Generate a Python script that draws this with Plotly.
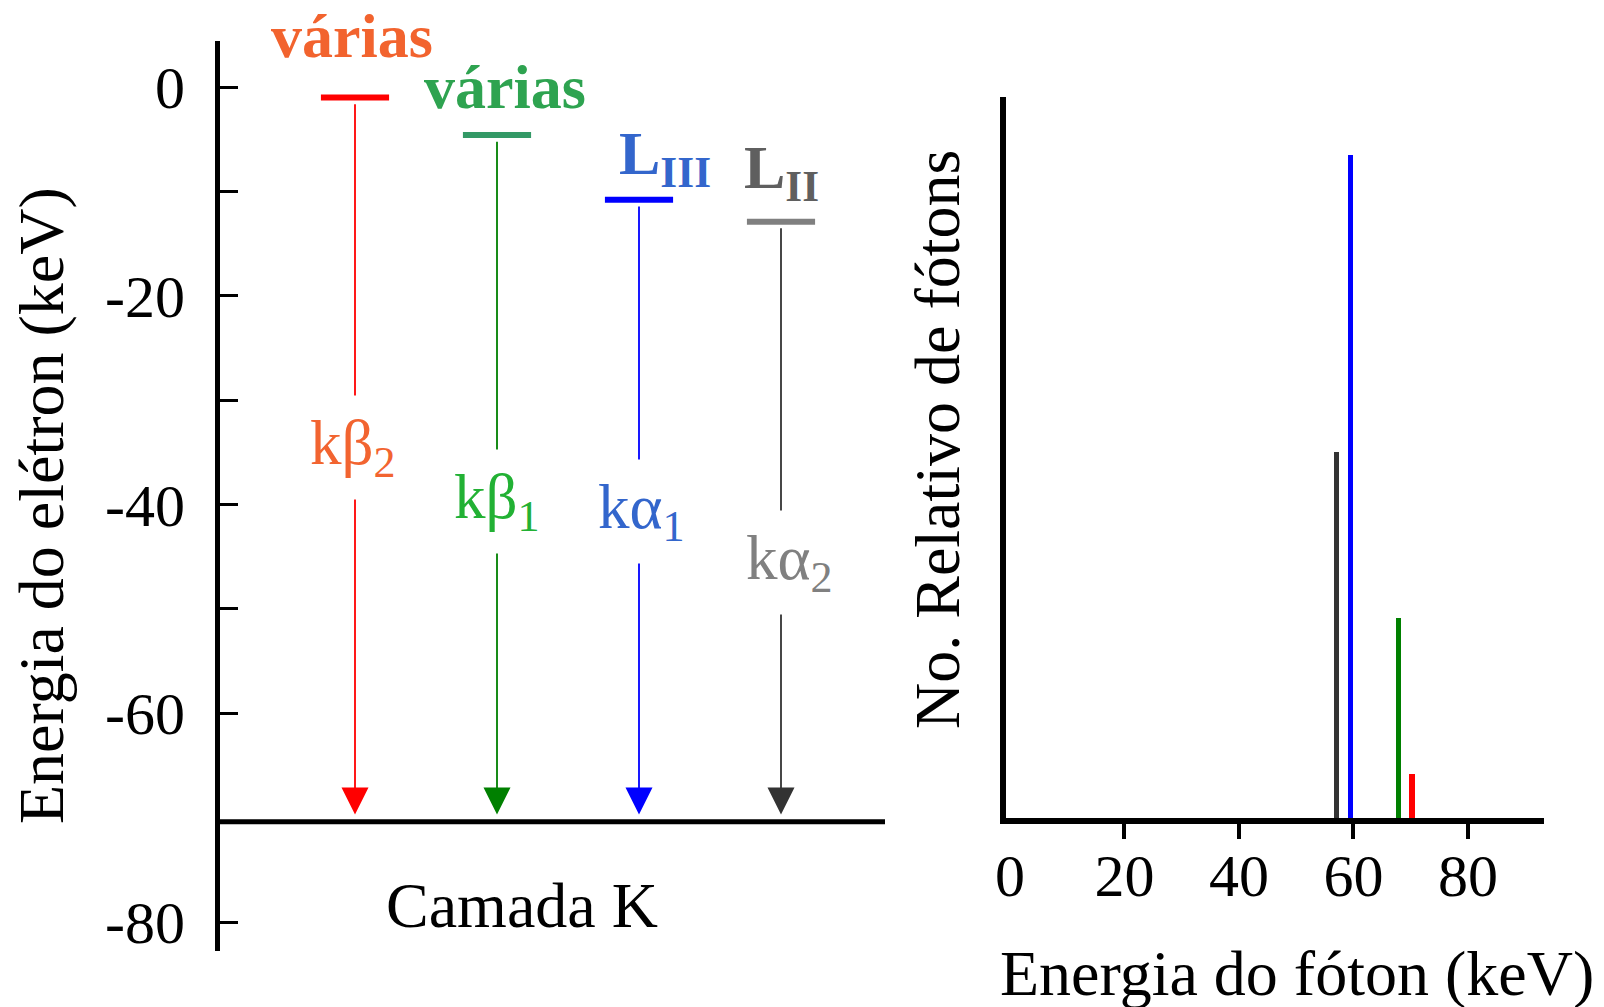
import plotly.graph_objects as go

# ---------------------------------------------------------------
# Data
# ---------------------------------------------------------------
# K-shell transitions of the energy-level diagram (left panel)
transitions = ["kβ<sub>2</sub>", "kβ<sub>1</sub>", "kα<sub>1</sub>", "kα<sub>2</sub>"]
shell_names = ["várias", "várias", "L<sub>III</sub>", "L<sub>II</sub>"]
shell_energy = [-1.0, -4.6, -10.8, -12.9]      # keV, upper level of each transition
k_shell_energy = -70.4                          # keV
energy_ticks = [0, -10, -20, -30, -40, -50, -60, -80]
energy_tick_text = ["0", "", "-20", "", "-40", "", "-60", "-80"]

# Characteristic emission lines (right panel), same order as transitions
photon_energy = [70.2, 67.9, 59.5, 57.0]        # keV
relative_photons = [6.1, 27.7, 92.0, 50.8]
photon_ticks = [0, 20, 40, 60, 80]

# ---------------------------------------------------------------
# Styling
# ---------------------------------------------------------------
W, H = 1604, 1007
SERIF = "Liberation Serif"
line_colors = ["#ff0000", "#008000", "#0000ff", "#333333"]
level_colors = ["#ff0000", "#339966", "#0000ff", "#808080"]
shell_text_colors = ["#f2632e", "#2ea350", "#3366cc", "#5f5f5f"]
transition_text_colors = ["#f26430", "#22b134", "#3366cc", "#808080"]
spectrum_colors = ["#ff0000", "#008000", "#0000ff", "#333333"]

# label placement (pixels / data units relative to each level)
shell_label_shift = [(-3, 61), (8, 48), (26, 42), (0, 50)]
transition_label_y = [-34.5, -39.7, -40.7, -45.6]
transition_label_xshift = [-2, 0, 2, 8]
level_half_width = 0.24


def fx(p):
    return p / W


def fy(p):
    return 1 - p / H


# left panel geometry: y pixel 87 -> 0 keV, 10.4375 px per keV;
# transition i sits at x pixel 355 + 142 * i
px_per_kev = 10.4375
y_top, y_bot, y0 = 41, 951, 87
left_x0, left_x1 = 220, 885
left_y_range = [-(y_bot - y0) / px_per_kev, (y0 - y_top) / px_per_kev]
left_x_range = [(left_x0 - 355) / 142, (left_x1 - 355) / 142]

# right panel geometry: 0 keV at x pixel 1002, 5.81 px per keV
right_x0, right_x1 = 1006, 1544
right_x_range = [(right_x0 - 1002) / -5.81, (right_x1 - 1002) / 5.81]

fig = go.Figure()

# K shell line
fig.add_trace(go.Scatter(
    x=left_x_range, y=[k_shell_energy, k_shell_energy],
    mode="lines", line=dict(color="black", width=5),
    xaxis="x", yaxis="y", hoverinfo="skip", showlegend=False))

# upper energy levels
for i, e in enumerate(shell_energy):
    fig.add_trace(go.Scatter(
        x=[i - level_half_width, i + level_half_width], y=[e, e],
        mode="lines", line=dict(color=level_colors[i], width=6),
        xaxis="x", yaxis="y", hoverinfo="skip", showlegend=False))

# emission spectrum
fig.add_trace(go.Bar(
    x=photon_energy, y=relative_photons, width=0.95,
    marker=dict(color=spectrum_colors, line=dict(width=0)),
    xaxis="x3", yaxis="y3", hoverinfo="skip", showlegend=False))

# invisible trace carrying the tick-mark axis of the spectrum
fig.add_trace(go.Scatter(
    x=[photon_ticks[0]], y=[0], mode="markers", marker=dict(opacity=0),
    xaxis="x4", yaxis="y3", hoverinfo="skip", showlegend=False))

annotations = []

# transition arrows (from the upper level down to the K shell)
for i, e in enumerate(shell_energy):
    annotations.append(dict(
        x=i, y=k_shell_energy + 0.7, ax=i, ay=e - 0.5,
        xref="x", yref="y", axref="x", ayref="y",
        text="", showarrow=True, arrowhead=2, arrowsize=3.0,
        arrowwidth=1.8, arrowcolor=line_colors[i], standoff=0, startstandoff=0))

# transition labels on white boxes interrupting the arrows
for i, name in enumerate(transitions):
    annotations.append(dict(
        x=i, y=transition_label_y[i], xref="x", yref="y",
        xshift=transition_label_xshift[i], xanchor="center", yanchor="middle",
        text=name, showarrow=False, bgcolor="white", borderpad=12,
        font=dict(family=SERIF, size=63, color=transition_text_colors[i])))

# shell labels above each level
for i, name in enumerate(shell_names):
    dx, dy = shell_label_shift[i]
    annotations.append(dict(
        x=i, y=shell_energy[i], xref="x", yref="y", xshift=dx, yshift=dy,
        xanchor="center", yanchor="middle",
        text=f"<b>{name}</b>", showarrow=False,
        font=dict(family=SERIF, size=62, color=shell_text_colors[i])))

# axis titles and shell name
title_font = dict(family=SERIF, size=64, color="black")
annotations += [
    dict(x=fx(41), y=fy(506), text="Energia do elétron (keV)", textangle=-90),
    dict(x=fx(522), y=fy(905), text="Camada K", textangle=0),
    dict(x=fx(938), y=fy(440), text="No. Relativo de fótons", textangle=-90),
    dict(x=fx(1297), y=fy(973), text="Energia do fóton (keV)", textangle=0),
]
for a in annotations[-4:]:
    a.update(xref="paper", yref="paper", xanchor="center", yanchor="middle",
             showarrow=False, font=title_font)

fig.update_layout(
    template="none",
    width=W, height=H,
    margin=dict(l=0, r=0, t=0, b=0, pad=0, autoexpand=False),
    paper_bgcolor="white", plot_bgcolor="white",
    showlegend=False,
    bargap=0,
    annotations=annotations,
    # left panel
    xaxis=dict(domain=[fx(left_x0), fx(left_x1)], range=left_x_range, visible=False,
               anchor="y", automargin=False),
    yaxis=dict(domain=[fy(y_bot), fy(y_top)], range=left_y_range, anchor="x",
               automargin=False,
               showline=True, linecolor="black", linewidth=5,
               showgrid=False, zeroline=False,
               tickmode="array", tickvals=energy_ticks, ticktext=energy_tick_text,
               ticks="inside", ticklen=18, tickwidth=2.5, tickcolor="black",
               ticklabelstandoff=18,
               tickfont=dict(family=SERIF, size=60, color="black")),
    # right panel
    xaxis3=dict(domain=[fx(right_x0), fx(right_x1)], range=right_x_range, anchor="y3",
                automargin=False,
                showline=True, linecolor="black", linewidth=6,
                showgrid=False, zeroline=False,
                tickmode="array", tickvals=photon_ticks, ticks="",
                ticklabelstandoff=0,
                tickfont=dict(family=SERIF, size=60, color="black")),
    xaxis4=dict(overlaying="x3", anchor="y3", range=right_x_range, automargin=False,
                showline=False, showgrid=False, zeroline=False,
                tickmode="array", tickvals=photon_ticks[1:], ticks="outside",
                ticklen=20, tickwidth=4, tickcolor="black", showticklabels=False),
    yaxis3=dict(domain=[fy(818), fy(97)], range=[0, 100], anchor="x3",
                automargin=False,
                showline=True, linecolor="black", linewidth=6,
                showgrid=False, zeroline=False, showticklabels=False, ticks=""),
)

fig.write_html("out.html")
